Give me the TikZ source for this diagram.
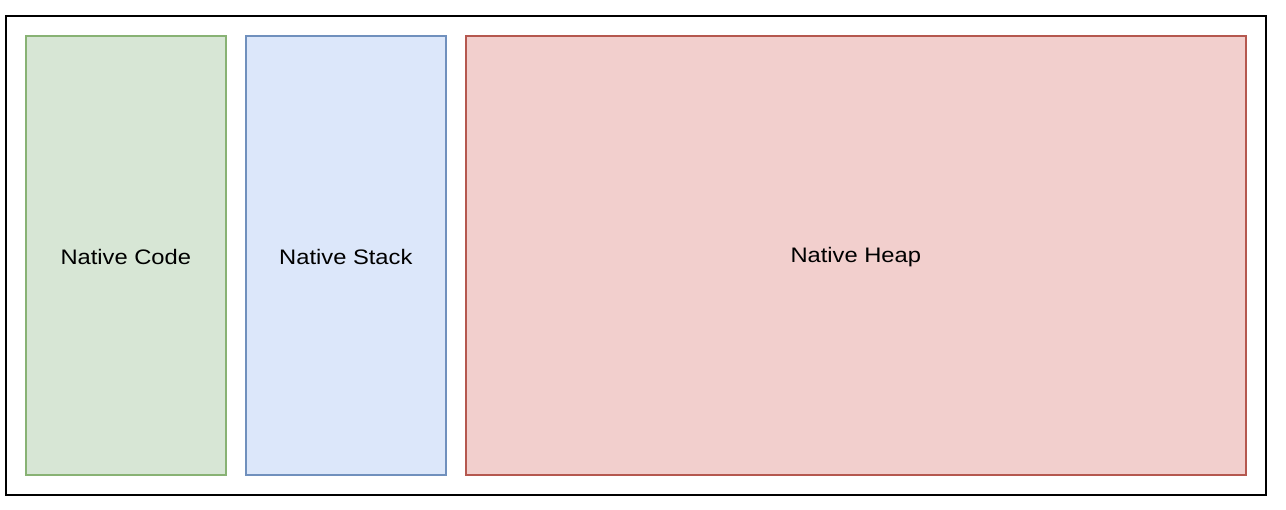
\documentclass[tikz,border=0pt]{standalone}
\usepackage{fontspec}
\setmainfont{Liberation Sans}
\usepackage{graphicx}
\definecolor{gfill}{HTML}{D7E6D5}
\definecolor{gdraw}{HTML}{88B274}
\definecolor{bfill}{HTML}{DCE7FA}
\definecolor{bdraw}{HTML}{7090BD}
\definecolor{rfill}{HTML}{F2CFCD}
\definecolor{rdraw}{HTML}{B5584F}
\begin{document}
\begin{tikzpicture}[x=1pt,y=-1pt,
  region/.style={draw, line width=1.6pt, inner sep=0pt, anchor=north west},
  lbl/.style={font=\fontsize{21}{25}\selectfont, text=black}]
\useasboundingbox (0,0) rectangle (1286,510);
\fill[white] (0,0) rectangle (1286,510);
\node[draw=black, line width=2pt, minimum width=1260pt, minimum height=479pt, inner sep=0pt, anchor=north west] (outer) at (5,15) {};
\node[region, draw=gdraw, fill=gfill, minimum width=200pt, minimum height=439pt] (code) at (25,35) {};
\node[region, draw=bdraw, fill=bfill, minimum width=200pt, minimum height=439pt] (stack) at (245,35) {};
\node[region, draw=rdraw, fill=rfill, minimum width=780pt, minimum height=439pt] (heap) at (465,35) {};
\node[lbl] (codet) at ([yshift=-1.5pt]code.center) {\scalebox{1.13}[1]{Native Code}};
\node[lbl] (stackt) at ([yshift=-1.5pt]stack.center) {\scalebox{1.13}[1]{Native Stack}};
\node[lbl] (heapt) at ([yshift=-1.5pt]heap.center) {\scalebox{1.13}[1]{Native Heap}};
\end{tikzpicture}
\end{document}
